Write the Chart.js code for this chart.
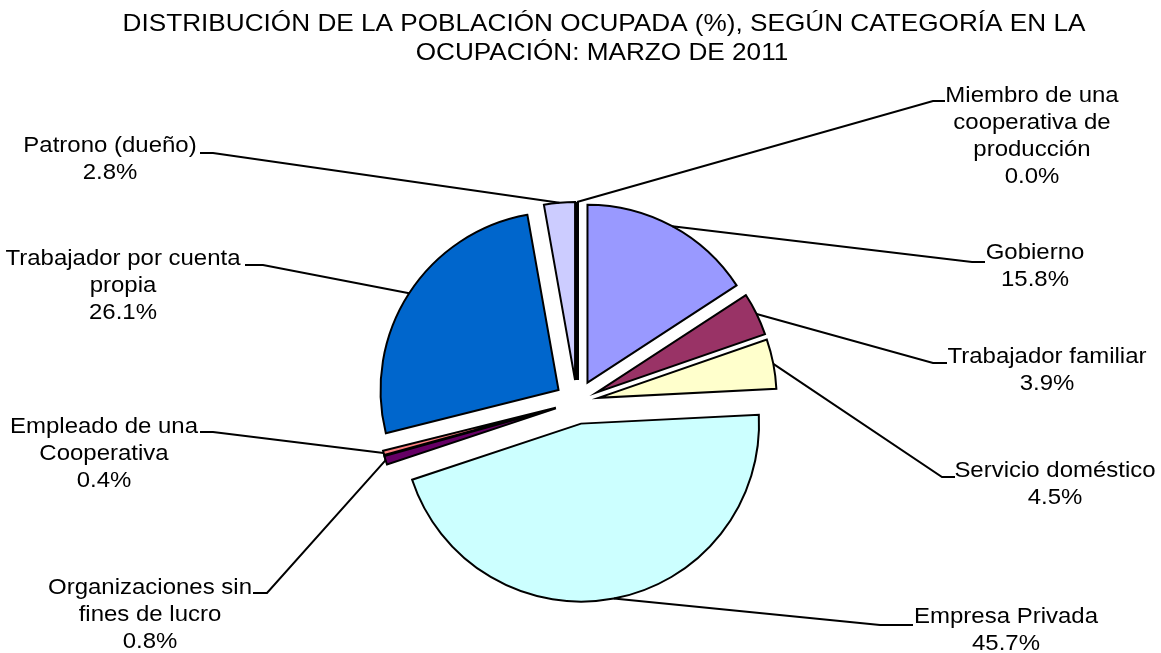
<!DOCTYPE html>
<html>
<head>
<meta charset="utf-8">
<script src="https://cdn.jsdelivr.net/npm/chart.js@4.4.1/dist/chart.umd.min.js"></script>
<style>
  html, body { margin: 0; padding: 0; background: #fff; }
  #wrap { width: 1161px; height: 653px; }
</style>
</head>
<body>
<div id="wrap"><canvas id="pie" width="1161" height="653"></canvas></div>
<script>
// data
const titleLines = ['DISTRIBUCIÓN DE LA POBLACIÓN OCUPADA (%), SEGÚN CATEGORÍA EN LA', 'OCUPACIÓN: MARZO DE 2011'];
const categories = [
  'Miembro de una cooperativa de producción',
  'Gobierno',
  'Trabajador familiar',
  'Servicio doméstico',
  'Empresa Privada',
  'Organizaciones sin fines de lucro',
  'Empleado de una Cooperativa',
  'Trabajador por cuenta propia',
  'Patrono (dueño)'
];
const values = [0.0, 15.8, 3.9, 4.5, 45.7, 0.8, 0.4, 26.1, 2.8];
const labelLines = [
  ['Miembro de una', 'cooperativa de', 'producción'],
  ['Gobierno'],
  ['Trabajador familiar'],
  ['Servicio doméstico'],
  ['Empresa Privada'],
  ['Organizaciones sin', 'fines de lucro'],
  ['Empleado de una', 'Cooperativa'],
  ['Trabajador por cuenta', 'propia'],
  ['Patrono (dueño)']
];
const sliceColors = ['#000080', '#9999FF', '#993366', '#FFFFCC', '#CCFFFF', '#660066', '#FF8080', '#0066CC', '#CCCCFF'];

// label layout: text centre x, first line y, elbow x, elbow y, end x
const labelLayout = [
  [1032, 96, 933, 101, 945],
  [1035, 253, 972, 262, 985],
  [1047, 357, 933, 363, 947],
  [1055, 471, 942, 477, 955],
  [1006, 617, 880, 625, 913],
  [150, 588, 267, 593, 253],
  [104, 427, 213, 432, 200],
  [123, 259, 263, 265, 245],
  [110, 146, 213, 153, 200]
];

const EXPLODE = 22;          // px each slice is pulled out
const FONT = '"Liberation Sans", Arial, sans-serif';
const STRETCH = 1.09;        // text in the original is a little wide

function wideText(ctx, t, x, y) {
  ctx.save();
  ctx.translate(x, y);
  ctx.scale(STRETCH, 1);
  ctx.fillText(t, 0, 0);
  ctx.restore();
}

const pieLabels = {
  id: 'pieLabels',
  beforeDatasetsDraw(chart) {
    // pull every slice out from the centre along its middle angle
    const a = chart.chartArea;
    const cx = (a.left + a.right) / 2, cy = (a.top + a.bottom) / 2;
    chart.getDatasetMeta(0).data.forEach(arc => {
      const mid = (arc.startAngle + arc.endAngle) / 2;
      arc.x = cx + Math.cos(mid) * EXPLODE;
      arc.y = cy + Math.sin(mid) * EXPLODE;
    });
  },
  afterDatasetsDraw(chart) {
    const ctx = chart.ctx;
    const meta = chart.getDatasetMeta(0);
    const R = meta.controller.outerRadius;
    ctx.save();

    // title
    ctx.fillStyle = '#000';
    ctx.textAlign = 'center';
    ctx.textBaseline = 'middle';
    ctx.font = '24px ' + FONT;
    wideText(ctx, titleLines[0], 604, 24);
    wideText(ctx, titleLines[1], 602, 53);

    meta.data.forEach((arc, i) => {
      const mid = (arc.startAngle + arc.endAngle) / 2;
      const cos = Math.cos(mid), sin = Math.sin(mid);
      const px = arc.x + cos * R, py = arc.y + sin * R;

      if (arc.circumference === 0) {
        ctx.strokeStyle = '#000';
        ctx.lineWidth = 4;
        ctx.beginPath();
        ctx.moveTo(arc.x, arc.y);
        ctx.lineTo(px, py);
        ctx.stroke();
      }

      const [tx, ty, ex, ey, endX] = labelLayout[i];
      ctx.strokeStyle = '#000';
      ctx.lineWidth = 2;
      ctx.beginPath();
      ctx.moveTo(px, py);
      ctx.lineTo(ex, ey);
      ctx.lineTo(endX, ey);
      ctx.stroke();

      const lines = labelLines[i].concat(values[i].toFixed(1) + '%');
      ctx.font = '22px ' + FONT;
      lines.forEach((t, k) => wideText(ctx, t, tx, ty + k * 27));
    });
    ctx.restore();
  }
};

new Chart(document.getElementById('pie'), {
  type: 'pie',
  data: {
    labels: categories,
    datasets: [{
      data: values,
      backgroundColor: sliceColors,
      borderColor: '#000',
      borderWidth: 2,
      borderJoinStyle: 'miter'
    }]
  },
  options: {
    responsive: false,
    animation: false,
    devicePixelRatio: 1,
    radius: 178,
    layout: { padding: { top: 160, bottom: 9, left: 0, right: 7 } },
    plugins: {
      legend: { display: false },
      title: { display: false },
      tooltip: { enabled: false }
    }
  },
  plugins: [pieLabels]
});
</script>
</body>
</html>
